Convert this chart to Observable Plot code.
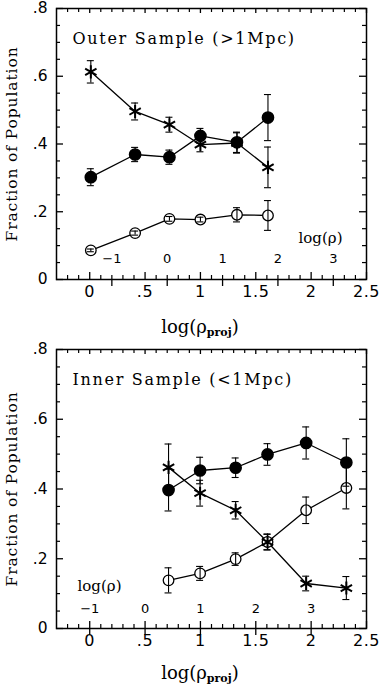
<!DOCTYPE html>
<html><head><meta charset="utf-8">
<script src="https://cdn.jsdelivr.net/npm/d3@7"></script>
<script src="https://cdn.jsdelivr.net/npm/@observablehq/plot@0.6"></script>
<style>
body{margin:0;background:#fff} svg{display:block}
.ttl text{letter-spacing:1.7px}
.ylab text{letter-spacing:0.9px}
.xtl text{letter-spacing:0.6px}
</style>
</head><body><div id="chart"></div>
<script>
// ---- tick labels ----
const xTicksMajor = [0, 0.5, 1, 1.5, 2, 2.5];
const xTickLabels = ["0", ".5", "1", "1.5", "2", "2.5"];
const yTicksMajor = [0, 0.2, 0.4, 0.6, 0.8];
const yTickLabels = ["0", ".2", ".4", ".6", ".8"];
const rhoTicks = [-1, 0, 1, 2, 3];
const rhoTickLabels = ["\u22121", "0", "1", "2", "3"];
// secondary axis: log(rho_proj) = 0.5*log(rho) + offset
const outerRhoOffset = 0.7;
const innerRhoOffset = 0.5;

// ---- Outer sample (>1Mpc) ----
const outerX = [0.01, 0.41, 0.72, 1.0, 1.33, 1.61];
const outerFilled = [0.302, 0.369, 0.361, 0.424, 0.405, 0.478];
const outerFilledErr = [0.025, 0.021, 0.021, 0.022, 0.03, 0.068];
const outerOpen = [0.086, 0.137, 0.179, 0.177, 0.191, 0.189];
const outerOpenErr = [0.004, 0.006, 0.007, 0.007, 0.021, 0.044];
const outerStar = [0.613, 0.496, 0.457, 0.398, 0.403, 0.331];
const outerStarErr = [0.033, 0.025, 0.022, 0.021, 0.03, 0.06];

// ---- Inner sample (<1Mpc) ----
const innerX = [0.712, 0.997, 1.318, 1.606, 1.955, 2.318];
const innerFilled = [0.397, 0.453, 0.461, 0.499, 0.532, 0.476];
const innerFilledErr = [0.06, 0.038, 0.028, 0.031, 0.046, 0.068];
const innerOpen = [0.138, 0.158, 0.199, 0.248, 0.339, 0.403];
const innerOpenErr = [0.036, 0.02, 0.018, 0.023, 0.038, 0.06];
const innerStar = [0.462, 0.388, 0.339, 0.248, 0.129, 0.116];
const innerStarErr = [0.067, 0.037, 0.025, 0.022, 0.021, 0.033];

const serif = "DejaVu Serif, serif";
const sans = "DejaVu Sans, sans-serif";

function rows(xs, ys, es, kind) {
  return xs.map((x, i) => ({x, y: ys[i], err: es[i], kind}));
}

function panel(o) {
  const W = 379, mL = 56, mR = 13;
  const frameW = W - mL - mR;
  const frameH = o.height - o.marginTop - o.marginBottom;
  const filled = rows(o.xs, o.filled, o.filledErr, "filled");
  const open = rows(o.xs, o.open, o.openErr, "open");
  const star = rows(o.xs, o.star, o.starErr, "star");
  const all = [...filled, ...open, ...star];
  const xMinor = d3.range(-2, 25).map(i => i / 10).filter(v => Math.abs(v * 2 - Math.round(v * 2)) > 1e-6);
  const yMinor = d3.range(1, 16).map(i => i * 0.05).filter(v => Math.abs(v * 5 - Math.round(v * 5)) > 1e-6);
  const rx = d => d / 2 + o.rhoOffset;
  const plot = Plot.plot({
    width: W, height: o.height,
    marginLeft: mL, marginRight: mR, marginTop: o.marginTop, marginBottom: o.marginBottom,
    x: {domain: [-0.3, 2.5], axis: null},
    y: {domain: [0, 0.8], axis: null},
    style: {fontFamily: sans, background: "white", overflow: "visible"},
    marks: [
      Plot.frame({stroke: "black", strokeWidth: 1.5}),
      // bottom ticks (inward)
      Plot.tickX(xMinor, {x: d => d, insetTop: frameH - 4, strokeWidth: 1.2, stroke: "black"}),
      Plot.tickX(xTicksMajor, {x: d => d, insetTop: frameH - 7, strokeWidth: 1.3, stroke: "black"}),
      // top ticks (inward)
      Plot.tickX(xMinor, {x: d => d, insetBottom: frameH - 4, strokeWidth: 1.2, stroke: "black"}),
      Plot.tickX(xTicksMajor, {x: d => d, insetBottom: frameH - 5, strokeWidth: 1.3, stroke: "black"}),
      // log(rho) ticks below the frame
      Plot.tickX(rhoTicks, {x: rx, insetTop: frameH, insetBottom: -7, strokeWidth: 1.3, stroke: "black"}),
      // left ticks
      Plot.tickY(yMinor, {y: d => d, insetRight: frameW - 4, strokeWidth: 1.2, stroke: "black"}),
      Plot.tickY(yTicksMajor, {y: d => d, insetRight: frameW - 7, strokeWidth: 1.3, stroke: "black"}),
      // right ticks
      Plot.tickY(yMinor, {y: d => d, insetLeft: frameW - 4, strokeWidth: 1.2, stroke: "black"}),
      Plot.tickY(yTicksMajor, {y: d => d, insetLeft: frameW - 7, strokeWidth: 1.3, stroke: "black"}),
      // tick labels
      Plot.text(yTicksMajor, {y: d => d, text: (d, i) => yTickLabels[i], frameAnchor: "left", textAnchor: "end", dx: -9, fontSize: 15.5, fontFamily: sans}),
      Plot.text(xTicksMajor, {x: d => d, text: (d, i) => xTickLabels[i], frameAnchor: "bottom", dy: 17, fontSize: 16, fontFamily: sans, className: "xtl"}),
      Plot.text(rhoTicks, {x: rx, text: (d, i) => rhoTickLabels[i], frameAnchor: "bottom", dy: o.rhoDy, fontSize: 13, fontFamily: sans}),
      Plot.text(["log(\u03c1)"], {frameAnchor: o.rhoLabelAnchor, textAnchor: "middle", dx: o.rhoLabelDx, dy: o.rhoLabelDy, fontSize: 15, fontFamily: serif}),
      Plot.text([o.title], {frameAnchor: "top-left", textAnchor: "start", dx: 16, dy: 24, fontSize: 16, fontFamily: serif, className: "ttl"}),
      Plot.text(["Fraction of Population"], {frameAnchor: "left", textAnchor: "middle", rotate: -90, dx: -44, fontSize: 15.5, fontFamily: serif, className: "ylab"}),
      // data
      Plot.line(all, {x: "x", y: "y", z: "kind", stroke: "black", strokeWidth: 1.3}),
      Plot.dot(open, {x: "x", y: "y", r: 5.3, fill: "white", stroke: "black", strokeWidth: 1.3}),
      Plot.dot(filled, {x: "x", y: "y", r: 5.6, fill: "black", stroke: "black"}),
      Plot.dot(star, {x: "x", y: "y", r: 6.2, symbol: "asterisk", stroke: "black", strokeWidth: 2}),
      Plot.ruleX(all, {x: "x", y1: d => d.y - d.err, y2: d => d.y + d.err, stroke: "black", strokeWidth: 1.1}),
      Plot.ruleY(all, {y: d => d.y + d.err, x1: "x", x2: "x", insetLeft: -3.5, insetRight: -3.5, stroke: "black", strokeWidth: 1.1}),
      Plot.ruleY(all, {y: d => d.y - d.err, x1: "x", x2: "x", insetLeft: -3.5, insetRight: -3.5, stroke: "black", strokeWidth: 1.1})
    ]
  });
  // x-axis title with subscript
  const sx = plot.scale("x");
  const t = d3.select(plot).append("text")
    .attr("x", sx.apply(1.0))
    .attr("y", o.height - o.titleBaseline)
    .attr("text-anchor", "middle")
    .attr("font-family", serif)
    .attr("font-size", 18)
    .attr("fill", "black");
  t.append("tspan").text("log(\u03c1");
  t.append("tspan").attr("font-size", 11).attr("font-weight", "bold").attr("dy", 3).text("proj");
  t.append("tspan").attr("dy", -3).text(")");
  return plot;
}

const chart = document.getElementById("chart");
chart.appendChild(panel({
  title: "Outer Sample (>1Mpc)",
  xs: outerX, filled: outerFilled, filledErr: outerFilledErr,
  open: outerOpen, openErr: outerOpenErr, star: outerStar, starErr: outerStarErr,
  rhoOffset: outerRhoOffset, height: 343, marginTop: 8, marginBottom: 64,
  rhoDy: -17, rhoLabelAnchor: "bottom-right", rhoLabelDx: -46, rhoLabelDy: -37,
  titleBaseline: 10
}));
chart.appendChild(panel({
  title: "Inner Sample (<1Mpc)",
  xs: innerX, filled: innerFilled, filledErr: innerFilledErr,
  open: innerOpen, openErr: innerOpenErr, star: innerStar, starErr: innerStarErr,
  rhoOffset: innerRhoOffset, height: 344, marginTop: 6, marginBottom: 59,
  rhoDy: -16, rhoLabelAnchor: "bottom-left", rhoLabelDx: 43, rhoLabelDy: -38,
  titleBaseline: 8
}));
</script>
</body></html>
